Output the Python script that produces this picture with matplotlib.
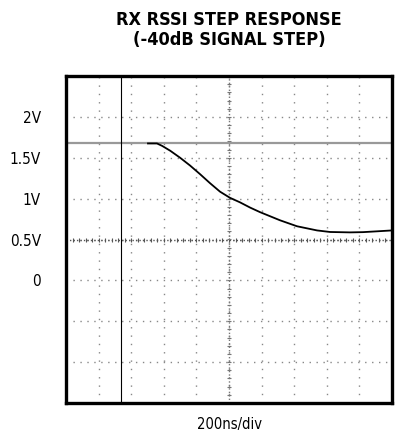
import numpy as np
import matplotlib.pyplot as plt

plt.rcParams['font.family'] = ['DejaVu Sans']
plt.rcParams['font.stretch'] = 'condensed'

# trace (time in ns, RSSI in V)
t_ns = [503, 558, 590, 640, 700, 761, 822, 883, 945, 1006, 1067, 1130, 1190,
        1313, 1417, 1540, 1620, 1742, 1822, 1908, 2000]
rssi_v = [1.675, 1.675, 1.645, 1.585, 1.500, 1.405, 1.300, 1.190, 1.085, 1.010,
          0.955, 0.890, 0.835, 0.735, 0.662, 0.611, 0.592, 0.587, 0.590, 0.600,
          0.611]

ref_level = 1.675      # gray marker line
trig_time = 337        # vertical cursor

ytick_vals = [-1.5, -1.0, -0.5, 0.0, 0.5, 1.0, 1.5, 2.0, 2.5]
ytick_labels = ['', '', '', '0', '0.5V', '1V', '1.5V', '2V', '']
xtick_vals = list(range(0, 2001, 200))

fig = plt.figure(figsize=(3.98, 4.32), dpi=100)
ax = fig.add_axes([66/398, 29/432, 326/398, 327/432])

ax.set_xlim(0, 2000)
ax.set_ylim(-1.5, 2.5)

# dotted graticule
for x in xtick_vals[1:-1]:
    ax.axvline(x, color='#888888', lw=1.0, ls=(0, (1, 5)), zorder=1)
for y in ytick_vals[1:-1]:
    ax.axhline(y, color='#888888', lw=1.0, ls=(0, (1, 4)), zorder=1)

# center axes with minor ticks
xc, yc = 1000, 0.5
ax.axvline(xc, color='#777777', lw=1.0, ls=(0, (1, 1.5)), zorder=1)
ax.axhline(yc, color='#555555', lw=1.0, ls=(0, (1, 1.5)), zorder=1)
mx = np.arange(0, 2001, 40)
ax.plot(mx, np.full_like(mx, yc, dtype=float), ls='none', marker='|',
        ms=3, mew=0.8, color='#555555', zorder=1)
my = np.arange(-1.5, 2.51, 0.1)
ax.plot(np.full_like(my, xc), my, ls='none', marker='_',
        ms=3, mew=0.8, color='#777777', zorder=1)

ax.axhline(ref_level, color='#999999', lw=1.6, zorder=2)
ax.axvline(trig_time, color='black', lw=0.8, zorder=2)

ax.plot(t_ns, rssi_v, color='black', lw=1.3, zorder=3)

ax.set_xticks(xtick_vals)
ax.set_xticklabels([])
ax.set_yticks(ytick_vals)
ax.set_yticklabels(ytick_labels, fontsize=11)
ax.tick_params(length=0, pad=18)
ax.tick_params(axis='x', pad=0)
for s in ax.spines.values():
    s.set_linewidth(2.4)

ax.set_xlabel('200ns/div', fontsize=10.5, labelpad=10)
fig.text(229/398, 1 - 30/432, 'RX RSSI STEP RESPONSE\n(-40dB SIGNAL STEP)',
         ha='center', va='center', fontsize=13, fontweight='bold',
         linespacing=1.15)

fig.savefig('out.png', dpi=100)
